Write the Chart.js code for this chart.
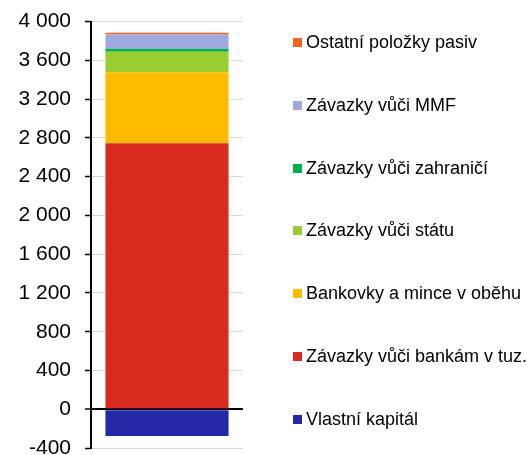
<!DOCTYPE html>
<html>
<head>
<meta charset="utf-8">
<script src="https://cdn.jsdelivr.net/npm/chart.js@4/dist/chart.umd.min.js"></script>
<style>
  html, body { margin: 0; padding: 0; background: #fff; overflow: hidden; }
  #wrap { position: relative; width: 531px; height: 455px; overflow: hidden; }
  #chart { position: absolute; left: 0; top: -5px; }
  #legend { position: absolute; left: 293px; top: 0; font-family: "Liberation Sans", Arial, sans-serif; font-size: 18px; color: #000; }
  .item { position: absolute; left: 0; white-space: nowrap; display: flex; align-items: center; }
  .box { width: 9px; height: 9px; margin-right: 4px; }
</style>
</head>
<body>
<div id="wrap">
  <canvas id="chart" width="531" height="490"></canvas>
  <div id="legend"></div>
</div>
<script>
const categories = ["2023"];

const seriesNames = [
  "Vlastní kapitál",
  "Závazky vůči bankám v tuz.",
  "Bankovky a mince v oběhu",
  "Závazky vůči státu",
  "Závazky vůči zahraničí",
  "Závazky vůči MMF",
  "Ostatní položky pasiv",
];
const seriesColors = ["#2228a6", "#d72b20", "#ffbb00", "#9acd32", "#00b050", "#9fa8e0", "#f26322"];
const seriesValues = [-275, 2745, 732, 213, 31, 147, 17];

const yTicks = [-400, 0, 400, 800, 1200, 1600, 2000, 2400, 2800, 3200, 3600, 4000];

// legend centres, top item first (reverse of stack order)
const legendY = [420, 357, 294, 231, 169, 106, 43];

const fmt = (v) => String(v).replace(/\B(?=(\d{3})+(?!\d))/g, " ");

new Chart(document.getElementById("chart"), {
  type: "bar",
  data: {
    labels: categories,
    datasets: seriesNames.map((name, i) => ({
      label: name,
      data: [seriesValues[i]],
      backgroundColor: seriesColors[i],
      borderWidth: 0,
      categoryPercentage: 1,
      barPercentage: 0.81,
    })),
  },
  options: {
    responsive: false,
    animation: false,
    layout: { padding: { left: 0, right: 288, top: 21, bottom: 37 } },
    plugins: { legend: { display: false }, tooltip: { enabled: false } },
    scales: {
      x: { stacked: true, display: false },
      y: {
        stacked: true,
        min: -400,
        max: 4000,
        afterBuildTicks: (axis) => {
          axis.ticks = yTicks.map((v) => ({ value: v }));
        },
        afterFit: (axis) => {
          axis.width = 91;
        },
        border: { display: true, color: "#000", width: 2 },
        grid: {
          color: (ctx) => (ctx.tick && ctx.tick.value === 0 ? "#000" : "#d9d9d9"),
          lineWidth: (ctx) => (ctx.tick && ctx.tick.value === 0 ? 2 : 1),
          tickColor: "#000",
          tickLength: 6,
          tickWidth: 1.5,
        },
        ticks: {
          color: "#000",
          padding: 14,
          font: { family: "'Liberation Sans', Arial, sans-serif", size: 21 },
          callback: (v) => fmt(v),
        },
      },
    },
  },
});

const legend = document.getElementById("legend");
seriesNames.forEach((name, i) => {
  const el = document.createElement("div");
  el.className = "item";
  el.style.top = legendY[i] - 11 + "px";
  el.innerHTML = `<span class="box" style="background:${seriesColors[i]}"></span><span>${name}</span>`;
  legend.appendChild(el);
});
</script>
</body>
</html>
